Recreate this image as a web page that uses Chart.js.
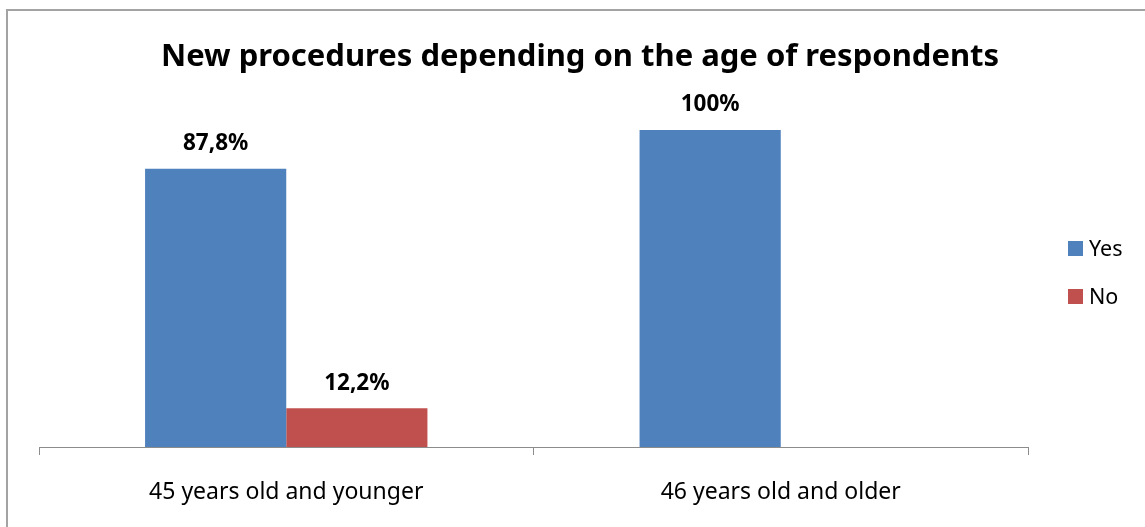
<!DOCTYPE html>
<html>
<head>
<meta charset="utf-8">
<script src="https://cdn.jsdelivr.net/npm/chart.js@4.4.1/dist/chart.umd.min.js"></script>
<style>
  html, body { margin: 0; padding: 0; background: #fff; overflow: hidden; }
  #wrap { position: relative; width: 1145px; height: 527px; }
  #frame { position: absolute; left: 6px; top: 9px; width: 1200px; height: 600px; border: 2px solid #a3a3a3; box-sizing: border-box; pointer-events: none; }
  canvas { position: absolute; left: 0; top: 0; }
</style>
</head>
<body>
<div id="wrap">
  <canvas id="c" width="1145" height="527"></canvas>
  <div id="frame"></div>
</div>
<script>
const chartTitle = 'New procedures depending on the age of respondents';
const categories = ['45 years old and younger', '46 years old and older'];
const seriesNames = ['Yes', 'No'];
const yesValues = [87.8, 100];
const noValues = [12.2, 0];
const seriesColors = ['#4F81BD', '#C0504D'];

const FONT = '"Noto Sans", "Open Sans", sans-serif';

function fmtPct(v) {
  return String(v).replace('.', ',') + '%';
}

// Title, value labels above the bars and the right-hand legend
const decorations = {
  id: 'decorations',
  afterDatasetsDraw(chart) {
    const ctx = chart.ctx;
    ctx.save();
    ctx.fillStyle = '#000';
    ctx.textAlign = 'center';
    ctx.textBaseline = 'middle';

    ctx.font = 'bold 31px ' + FONT;
    ctx.fillText(chartTitle, 580, 57);

    ctx.font = 'bold 22.5px ' + FONT;
    chart.data.datasets.forEach((ds, di) => {
      const meta = chart.getDatasetMeta(di);
      meta.data.forEach((bar, i) => {
        const v = ds.data[i];
        if (!v) return;
        ctx.fillText(fmtPct(v), bar.x, bar.y - 25);
      });
    });

    ctx.font = '21.5px ' + FONT;
    ctx.textAlign = 'left';
    chart.data.datasets.forEach((ds, di) => {
      const cy = 249 + di * 48;
      ctx.fillStyle = ds.backgroundColor;
      ctx.fillRect(1068, cy - 8, 15, 15);
      ctx.fillStyle = '#000';
      ctx.fillText(ds.label, 1089, cy + 1);
    });
    ctx.restore();
  }
};

new Chart(document.getElementById('c'), {
  type: 'bar',
  data: {
    labels: categories,
    datasets: [
      { label: seriesNames[0], data: yesValues, backgroundColor: seriesColors[0] },
      { label: seriesNames[1], data: noValues, backgroundColor: seriesColors[1] }
    ]
  },
  options: {
    responsive: false,
    animation: false,
    layout: { padding: { top: 130, left: 39, right: 117, bottom: 0 } },
    datasets: { bar: { categoryPercentage: 0.571, barPercentage: 1.0 } },
    plugins: { legend: { display: false }, title: { display: false }, tooltip: { enabled: false } },
    scales: {
      x: {
        afterFit(scale) { scale.height = 80; },
        grid: { display: true, drawOnChartArea: false, drawTicks: true, tickLength: 8, color: '#8c8c8c', lineWidth: 1 },
        border: { display: true, color: '#8c8c8c', width: 1 },
        ticks: { color: '#000', padding: 24, font: { family: FONT, size: 23 } }
      },
      y: {
        display: false,
        min: 0,
        max: 100
      }
    }
  },
  plugins: [decorations]
});
</script>
</body>
</html>
